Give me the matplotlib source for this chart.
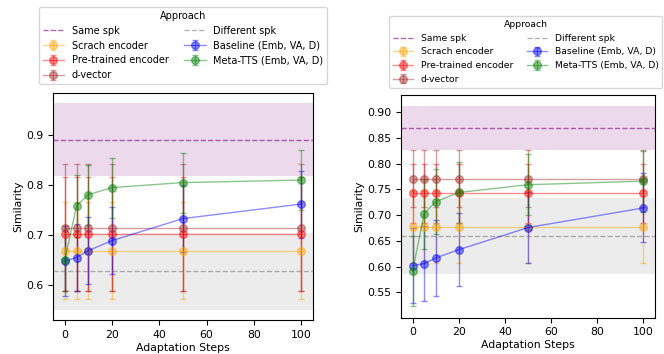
import numpy as np
import matplotlib
matplotlib.use("Agg")
import matplotlib.pyplot as plt

steps = [0, 5, 10, 20, 50, 100]
approaches = ["Scrach encoder", "Pre-trained encoder", "d-vector",
              "Baseline (Emb, VA, D)", "Meta-TTS (Emb, VA, D)"]
colors = ["orange", "red", "brown", "blue", "green"]

# left panel
left_same = (0.891, 0.073)
left_diff = (0.628, 0.077)
left_mean = {
    "Scrach encoder": [0.669] * 6,
    "Pre-trained encoder": [0.703] * 6,
    "d-vector": [0.715] * 6,
    "Baseline (Emb, VA, D)": [0.648, 0.655, 0.669, 0.689, 0.733, 0.762],
    "Meta-TTS (Emb, VA, D)": [0.650, 0.759, 0.781, 0.795, 0.805, 0.810],
}
left_std = {
    "Scrach encoder": [0.097] * 6,
    "Pre-trained encoder": [0.114] * 6,
    "d-vector": [0.127] * 6,
    "Baseline (Emb, VA, D)": [0.070, 0.067, 0.067, 0.067, 0.067, 0.067],
    "Meta-TTS (Emb, VA, D)": [0.062, 0.062, 0.060, 0.060, 0.060, 0.060],
}

# right panel
right_same = (0.869, 0.043)
right_diff = (0.660, 0.074)
right_mean = {
    "Scrach encoder": [0.677] * 6,
    "Pre-trained encoder": [0.742] * 6,
    "d-vector": [0.771] * 6,
    "Baseline (Emb, VA, D)": [0.602, 0.606, 0.617, 0.633, 0.676, 0.714],
    "Meta-TTS (Emb, VA, D)": [0.591, 0.703, 0.726, 0.744, 0.759, 0.766],
}
right_std = {
    "Scrach encoder": [0.069] * 6,
    "Pre-trained encoder": [0.058] * 6,
    "d-vector": [0.056] * 6,
    "Baseline (Emb, VA, D)": [0.073, 0.072, 0.073, 0.071, 0.069, 0.067],
    "Meta-TTS (Emb, VA, D)": [0.068, 0.068, 0.063, 0.059, 0.059, 0.059],
}

plt.rcParams["font.size"] = 7.8

fig = plt.figure(figsize=(6.64, 3.54), dpi=100)
ax_l = fig.add_axes([0.0798, 0.096, 0.3916, 0.641])
ax_r = fig.add_axes([0.604, 0.1025, 0.3825, 0.629])


def draw(ax, same, diff, means, stds, ylim, yticks, fmt, loc, anchor, colspace, lfs):
    ax.axhspan(same[0] - same[1], same[0] + same[1], color="purple", alpha=0.15, lw=0)
    ax.axhspan(diff[0] - diff[1], diff[0] + diff[1], color="gray", alpha=0.15, lw=0)
    h_same = ax.axhline(same[0], color="purple", ls="--", lw=1, alpha=0.6, label="Same spk")
    h_diff = ax.axhline(diff[0], color="gray", ls="--", lw=1, alpha=0.6, label="Different spk")
    conts = []
    for name, c in zip(approaches, colors):
        cont = ax.errorbar(steps, means[name], yerr=stds[name], fmt="-o", color=c,
                           alpha=0.45, lw=1, ms=5.5, capsize=2, elinewidth=1, label=name)
        conts.append(cont)
    ax.set_xlim(-5, 105)
    ax.set_ylim(*ylim)
    ax.set_yticks(yticks)
    ax.set_yticklabels([fmt.format(v) for v in yticks])
    ax.set_xticks([0, 20, 40, 60, 80, 100])
    ax.set_xlabel("Adaptation Steps", labelpad=2)
    ax.set_ylabel("Similarity", labelpad=2)
    handles = [h_same, conts[0], conts[1], conts[2], h_diff, conts[3], conts[4]]
    ax.legend(handles=handles, title="Approach", ncol=2, loc=loc,
              bbox_to_anchor=anchor, fontsize=lfs, title_fontsize=lfs,
              labelspacing=0.5, columnspacing=colspace, handlelength=2.2)


draw(ax_l, left_same, left_diff, left_mean, left_std, (0.530, 0.984),
     [0.6, 0.7, 0.8, 0.9], "{:.1f}", "lower center", (0.5, 1.018), 1.6, 7)
draw(ax_r, right_same, right_diff, right_mean, right_std, (0.501, 0.933),
     [0.55, 0.60, 0.65, 0.70, 0.75, 0.80, 0.85, 0.90], "{:.2f}",
     "lower left", (-0.066, 1.013), 1.5, 6.7)

fig.savefig("out.png", dpi=100)
